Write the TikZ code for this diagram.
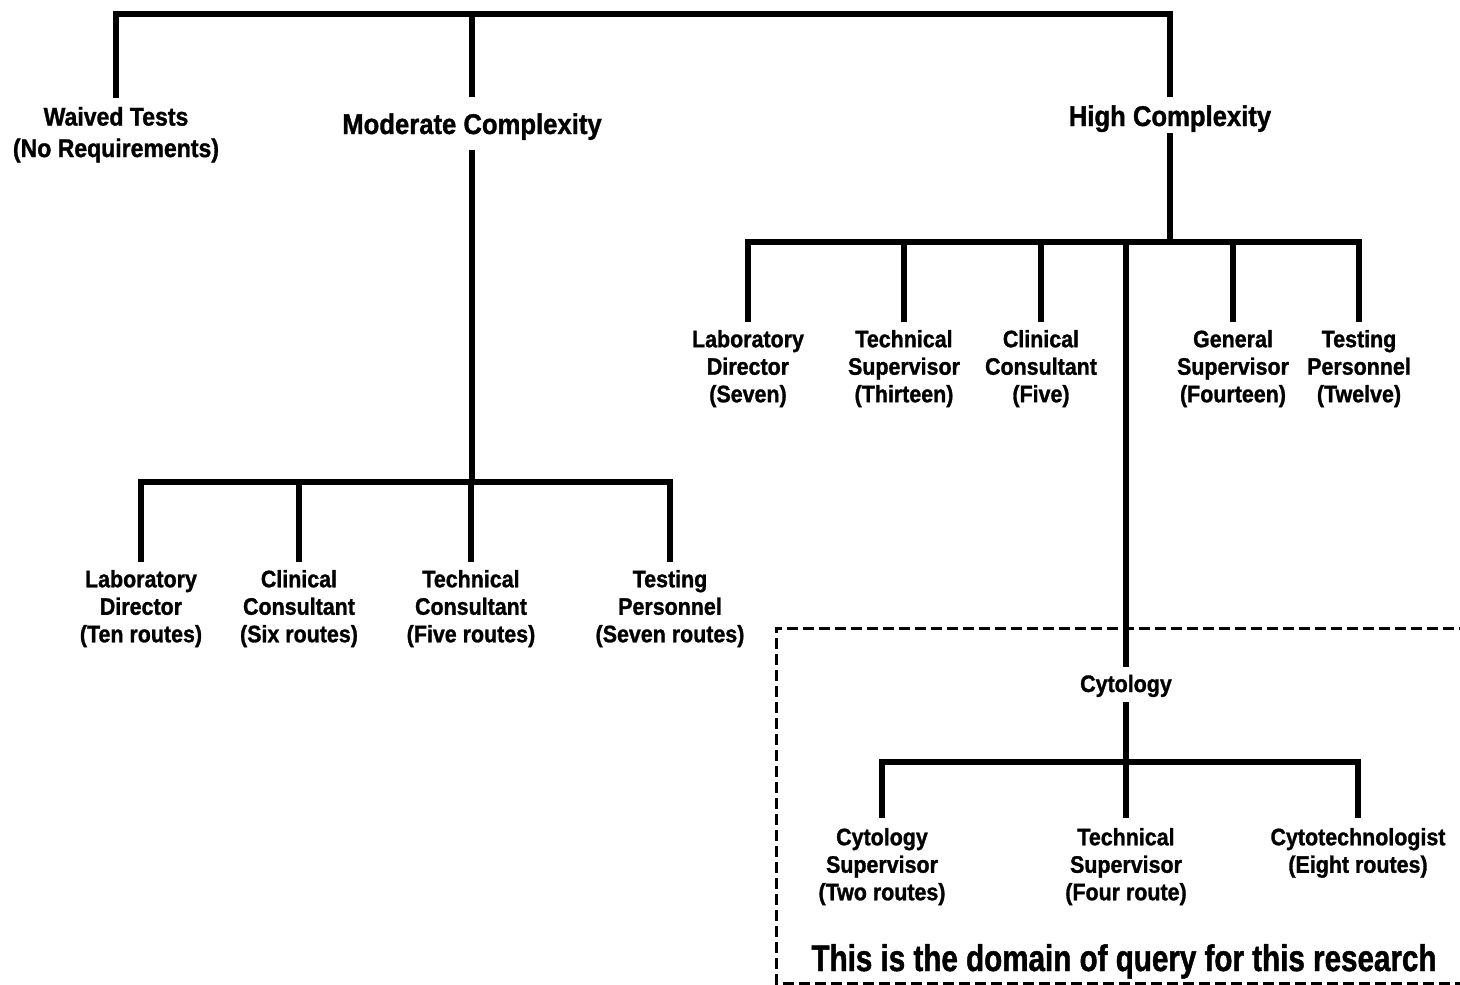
\documentclass[tikz,border=0pt]{standalone}
\usepackage{fontspec}
\setmainfont{Liberation Sans}[FakeStretch=0.9, BoldFeatures={FakeBold=1.2}]
\newfontfamily\notefont{Liberation Sans}[FakeStretch=0.8, BoldFeatures={FakeBold=1.2}]

\begin{document}
\begin{tikzpicture}[x=1pt,y=-1pt,
  tree/.style={line width=5.5pt, line join=miter},
  headnode/.style={inner sep=0pt, outer sep=0pt, align=center,
    font=\fontsize{28.5}{34}\selectfont\bfseries},
  rolenode/.style={inner sep=0pt, outer sep=0pt, anchor=north, align=center,
    font=\fontsize{23.8}{27.5}\selectfont\bfseries},
  domainframe/.style={line width=3pt, dash pattern=on 11pt off 5pt},
]
\fill[white] (0,0) rectangle (1460,985);
\useasboundingbox (0,0) rectangle (1460,985);

% bar levels of the tree
\coordinate (topbar)  at (640,14);
\coordinate (modbar)  at (400,482);
\coordinate (highbar) at (1000,242);
\coordinate (cytbar)  at (1100,762);

% first level
\node[headnode, anchor=north, font=\fontsize{25.6}{31.5}\selectfont\bfseries]
  (waived) at (116,107) {Waived Tests\\(No Requirements)};
\node[headnode, anchor=base] (mod) at (472,134) {Moderate Complexity};
\node[headnode, anchor=base] (hc)  at (1170,126) {High Complexity};

\draw[tree, shorten <=9pt, shorten >=8pt] (waived.north) |- (topbar) -| (hc.north);
\draw[tree, shorten >=16pt] (topbar -| mod.north) -- (mod.north);

% moderate complexity personnel
\node[rolenode] (mld) at (141,570) {Laboratory\\Director\\(Ten routes)};
\node[rolenode] (mcc) at (299,570) {Clinical\\Consultant\\(Six routes)};
\node[rolenode] (mtc) at (471,570) {Technical\\Consultant\\(Five routes)};
\node[rolenode] (mtp) at (670,570) {Testing\\Personnel\\(Seven routes)};

\draw[tree, shorten <=10pt] (mod.south) -- (mod.south |- modbar);
\draw[tree, shorten <=8pt, shorten >=8pt] (mld.north) |- (modbar) -| (mtp.north);
\draw[tree, shorten <=8pt] (mcc.north) -- (mcc.north |- modbar);
\draw[tree, shorten <=8pt] (mtc.north) -- (mtc.north |- modbar);

% high complexity personnel
\node[rolenode] (hld) at (748,330)  {Laboratory\\Director\\(Seven)};
\node[rolenode] (hts) at (904,330)  {Technical\\Supervisor\\(Thirteen)};
\node[rolenode] (hcc) at (1041,330) {Clinical\\Consultant\\(Five)};
\node[rolenode] (hgs) at (1233,330) {General\\Supervisor\\(Fourteen)};
\node[rolenode] (htp) at (1359,330) {Testing\\Personnel\\(Twelve)};

\draw[tree, shorten <=1pt] (hc.south) -- (hc.south |- highbar);
\draw[tree, shorten <=8pt, shorten >=8pt] (hld.north) |- (highbar) -| (htp.north);
\draw[tree, shorten <=8pt] (hts.north) -- (hts.north |- highbar);
\draw[tree, shorten <=8pt] (hcc.north) -- (hcc.north |- highbar);
\draw[tree, shorten <=8pt] (hgs.north) -- (hgs.north |- highbar);

% cytology branch
\node[rolenode, anchor=base] (cyto) at (1126,692) {Cytology};
\draw[tree, shorten >=8pt] (highbar -| cyto.north) -- (cyto.north);

\node[rolenode] (ccs) at (882,828)  {Cytology\\Supervisor\\(Two routes)};
\node[rolenode] (cts) at (1126,828) {Technical\\Supervisor\\(Four route)};
\node[rolenode] (cct) at (1358,828) {Cytotechnologist\\(Eight routes)};

\draw[tree, shorten <=5pt] (cyto.south) -- (cyto.south |- cytbar);
\draw[tree, shorten <=10pt, shorten >=10pt] (ccs.north) |- (cytbar) -| (cct.north);
\draw[tree, shorten <=10pt] (cts.north) -- (cts.north |- cytbar);

% research domain frame
\draw[domainframe] (1470,628) -| (776,983) -- (1470,983);
\node[inner sep=0pt, anchor=base, font=\notefont\fontsize{37}{40}\selectfont\bfseries]
  (note) at (1124,971) {This is the domain of query for this research};
\end{tikzpicture}
\end{document}
